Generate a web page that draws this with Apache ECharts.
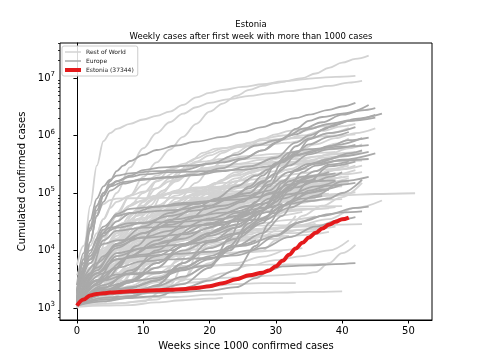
<!DOCTYPE html>
<html><head><meta charset="utf-8">
<script src="https://cdn.jsdelivr.net/npm/echarts@6/dist/echarts.min.js"></script>
<style>html,body{margin:0;padding:0;background:#fff}#c{width:480px;height:360px}</style>
</head><body><div id="c"></div>
<script>
// ---- data: [week, cumulated cases] ----
const estoniaPoints = [[0,1100],[1,1400],[2,1650],[3,1750],[4,1800],[5,1850],[6,1880],[8,1950],[10,2000],[12,2030],[14,2070],[16,2120],[18,2230],[20,2380],[22,2700],[24,3150],[26,3700],[28,4100],[29,4500],[30,5300],[31,6600],[32,8400],[33,10800],[34,13600],[35,16800],[36,20300],[37,24000],[38,28000],[39,31500],[40,34800],[41,37344]];

const europeLines = [
[[0,1.7e3],[1,7e3],[2,2.5e4],[3,6e4],[4,1e5],[5,1.4e5],[6,1.6e5],[8,1.9e5],[10,2.1e5],[14,2.3e5],[20,2.4e5],[25,2.55e5],[29,2.9e5],[31,3.4e5],[33,4.7e5],[35,8.5e5],[37,1.25e6],[39,1.55e6],[42,1.95e6],[46,2.4e6]],
[[0,2.5e3],[1,9e3],[2,3.3e4],[3,8e4],[4,1.3e5],[5,1.7e5],[6,2e5],[8,2.2e5],[12,2.4e5],[16,2.5e5],[20,3.2e5],[24,4.6e5],[27,6.7e5],[30,8.3e5],[33,1.05e6],[35,1.3e6],[38,1.6e6],[41,1.8e6],[45,2.3e6]],
[[0,1.8e3],[1,4.5e3],[2,1.4e4],[3,4e4],[4,7e4],[5,1.1e5],[7,1.45e5],[10,1.75e5],[14,1.9e5],[18,2.1e5],[22,2.7e5],[25,3.9e5],[28,5.5e5],[31,8.5e5],[33,1.3e6],[35,1.8e6],[37,2.1e6],[40,2.4e6],[43,2.75e6],[45,3e6]],
[[0,2e3],[1,6e3],[2,2.2e4],[3,5e4],[4,9e4],[5,1.3e5],[6,1.6e5],[8,2e5],[10,2.5e5],[13,2.8e5],[17,3e5],[22,3.4e5],[25,4e5],[28,5.5e5],[30,7.5e5],[32,1e6],[34,1.3e6],[37,1.7e6],[40,2.3e6],[44,3.4e6]],
[[0,1.9e3],[1,7e3],[2,2.4e4],[3,6e4],[4,1e5],[5,1.3e5],[7,1.55e5],[10,1.7e5],[14,1.85e5],[18,2.05e5],[22,2.4e5],[26,2.9e5],[30,4.1e5],[33,7.5e5],[35,1e6],[38,1.4e6],[41,1.8e6],[45,2.05e6]],
[[0,1.5e3],[1,5e3],[2,1.4e4],[3,4e4],[4,9e4],[5,1.6e5],[6,2.4e5],[7,3e5],[8,3.6e5],[10,4.6e5],[12,5.6e5],[15,6.7e5],[18,7.8e5],[22,9.5e5],[25,1.15e6],[28,1.4e6],[30,1.65e6],[33,2e6],[35,2.3e6],[38,2.8e6],[40,3.2e6],[42,3.7e6]],
[[0,1.3e3],[1,4e3],[2,9e3],[3,1.6e4],[5,2.5e4],[8,3e4],[15,3.15e4],[20,3.4e4],[25,4e4],[28,5e4],[30,7e4],[32,1.3e5],[34,2.3e5],[36,3e5],[40,3.8e5],[45,4.9e5]],
[[0,1.4e3],[2,1e4],[4,2.6e4],[6,4e4],[8,4.5e4],[14,5e4],[20,6e4],[24,9e4],[26,1.3e5],[28,2e5],[30,3.3e5],[32,4.3e5],[35,5e5],[38,6.5e5],[41,8.3e5],[44,9.2e5]],
[[0,1.2e3],[2,7e3],[4,2.3e4],[6,4.3e4],[8,5.3e4],[12,5.8e4],[18,6.5e4],[22,8e4],[26,1e5],[28,1.5e5],[30,3.3e5],[32,5e5],[35,5.8e5],[40,6.4e5],[44,6.8e5]],
[[0,1.3e3],[2,7e3],[4,1.3e4],[6,1.5e4],[10,1.65e4],[16,1.9e4],[22,2.8e4],[26,4.5e4],[29,7e4],[31,1.5e5],[33,2.5e5],[36,3.2e5],[40,3.7e5],[44,3.9e5]],
[[0,1.3e3],[2,8e3],[4,2e4],[6,2.5e4],[10,3e4],[14,4e4],[18,5e4],[22,6e4],[26,8e4],[29,1.4e5],[32,2.3e5],[35,3.2e5],[38,3.9e5],[41,4.9e5],[43,5.5e5]],
[[0,1.1e3],[3,4.5e3],[6,1.3e4],[10,2.6e4],[14,4.5e4],[18,6.5e4],[22,8e4],[26,9e4],[29,1.1e5],[31,1.6e5],[33,2.4e5],[36,3.3e5],[40,4.4e5],[44,5.2e5]],
[[0,1.2e3],[3,4e3],[6,7e3],[10,8e3],[15,8.7e3],[20,9.5e3],[25,1.2e4],[30,1.8e4],[34,3.2e4],[38,4.3e4],[42,5.5e4],[44,5.8e4]],
[[0,1.1e3],[3,3e3],[6,8e3],[10,1.1e4],[15,1.25e4],[20,1.4e4],[25,2e4],[28,3.3e4],[32,5.5e4],[36,9e4],[40,1.6e5],[44,1.9e5]],
[[0,1.1e3],[2,4e3],[4,1.5e4],[6,2.2e4],[10,2.5e4],[15,2.6e4],[20,2.8e4],[25,3.5e4],[29,4.7e4],[32,6.5e4],[35,7.2e4],[38,8e4],[40,1e5],[43,1.7e5]],
[[0,1.6e3],[2,4e3],[4,8e3],[6,1.3e4],[10,2e4],[14,2.8e4],[18,3.8e4],[22,5.3e4],[25,7e4],[27,1e5],[29,1.6e5],[31,3.5e5],[33,6.5e5],[35,8.8e5],[38,1.1e6],[42,1.4e6]],
[[0,1.2e3],[3,4e3],[6,7e3],[10,8.5e3],[14,1e4],[18,1.5e4],[22,2.5e4],[25,4.5e4],[27,7e4],[29,1.3e5],[31,2.8e5],[33,4.5e5],[36,5.5e5],[39,6.8e5],[43,9e5]],
[[0,2e3],[3,6e3],[6,1.2e4],[10,1.7e4],[14,2.2e4],[17,3.5e4],[20,6e4],[23,8.5e4],[26,1.2e5],[28,1.6e5],[30,2.2e5],[32,3e5],[35,4.7e5],[38,5.8e5],[42,6.9e5]],
[[0,1.3e3],[3,5e3],[6,1.1e4],[10,2e4],[14,3.4e4],[18,5.6e4],[21,8e4],[24,1.3e5],[27,2e5],[29,2.6e5],[31,3.6e5],[33,5e5],[35,7e5],[38,9.5e5],[41,1.15e6]],
[[0,1.5e3],[2,6e3],[4,1.8e4],[6,3.2e4],[8,4.4e4],[12,5.8e4],[16,6.7e4],[20,7.2e4],[24,7.7e4],[27,8.5e4],[30,1e5],[33,1.25e5],[36,1.6e5],[38,1.9e5],[40,2.3e5]],
[[0,1.2e3],[3,4e3],[6,9e3],[10,1.1e4],[14,1.5e4],[18,2.7e4],[22,3.1e4],[27,3.4e4],[30,4.5e4],[32,7e4],[35,1.6e5],[38,2.9e5],[42,3.5e5]],
[[0,1.1e3],[4,3e3],[8,4e3],[14,4.3e3],[20,5.5e3],[23,1e4],[26,2.5e4],[29,6e4],[31,1e5],[33,1.6e5],[36,2.4e5],[38,3.1e5],[41,3.5e5]],
[[0,1.1e3],[2,1.5e3],[4,1.75e3],[8,1.8e3],[14,1.85e3],[20,2e3],[24,2.3e3],[27,3.3e3],[29,4.5e3],[31,5.3e3],[35,5.5e3],[39,5.8e3],[42,6e3]],
[[0,1.2e3],[3,3e3],[6,5e3],[10,6.5e3],[14,7e3],[20,7.4e3],[24,8.2e3],[28,1.1e4],[32,1.7e4],[36,2.6e4],[40,3.5e4],[42,3.8e4]],
[[0,1.5e3],[3,3e3],[6,3.8e3],[12,4e3],[16,5e3],[19,7e3],[22,8e3],[26,1e4],[30,1.8e4],[33,3e4],[37,4e4],[40,4.6e4],[43,4.8e4]],
[[0,1.5e3],[4,4e3],[8,8e3],[12,1.5e4],[16,2.5e4],[20,3.6e4],[24,4.8e4],[28,6.5e4],[32,9.5e4],[36,1.3e5],[39,1.6e5]],
[[0,1.2e3],[4,2e3],[8,3e3],[12,6e3],[16,1e4],[20,1.5e4],[24,2e4],[28,3.5e4],[31,6e4],[34,8e4],[37,8.9e4]],
[[0,1.1e3],[4,1.7e3],[8,2.8e3],[12,6e3],[16,1.2e4],[20,2e4],[24,2.8e4],[28,5e4],[31,8e4],[34,1e5],[38,1.15e5]],
[[0,1.2e3],[4,2.3e3],[8,2.9e3],[12,3.3e3],[16,4.5e3],[20,7e3],[24,1.2e4],[28,2e4],[31,4e4],[33,8e4],[35,1.1e5],[38,1.35e5],[42,1.5e5]],
[[0,1.2e3],[4,1.9e3],[8,2.8e3],[12,5e3],[16,1.2e4],[20,1.8e4],[24,2.5e4],[28,5e4],[30,1e5],[32,1.6e5],[34,1.9e5],[37,2.1e5]],
[[0,1.3e3],[4,2.1e3],[8,2.2e3],[12,3e3],[16,6e3],[20,1.1e4],[24,1.6e4],[28,3e4],[30,6e4],[32,1.1e5],[34,1.7e5],[36,2e5],[39,2.2e5]],
[[0,1.1e3],[4,1.4e3],[8,1.5e3],[12,1.6e3],[16,2.2e3],[20,3e3],[24,4.5e3],[27,1.2e4],[29,3e4],[31,6e4],[33,8e4],[35,1e5],[37,1.15e5],[40,1.4e5]],
[[0,1.2e3],[4,1.7e3],[8,1.9e3],[12,2.4e3],[16,3.5e3],[20,5.5e3],[23,1.2e4],[26,3e4],[28,5e4],[30,8.5e4],[32,1.3e5],[34,1.6e5],[36,1.75e5]],
[[0,1.1e3],[4,1.5e3],[8,1.6e3],[12,2.1e3],[16,2.6e3],[20,5e3],[23,1.6e4],[25,4e4],[27,6e4],[29,8e4],[32,1.2e5],[35,1.9e5],[38,2.3e5]],
[[0,1.1e3],[4,2.2e3],[8,4.5e3],[12,8e3],[16,1.3e4],[20,2e4],[24,3.5e4],[28,5.5e4],[31,6.5e4]],
[[0,1.1e3],[4,1.3e3],[8,1.5e3],[12,2.5e3],[16,6e3],[20,1.4e4],[24,2.5e4],[27,4.5e4]],
[[0,1.1e3],[4,1.7e3],[8,2.3e3],[12,3e3],[16,5e3],[20,8e3],[24,1.2e4],[27,1.5e4]],
[[0,1.3e3],[4,3e3],[8,8e3],[12,1.3e4],[16,1.6e4],[20,2.5e4],[24,4.5e4],[28,5.5e4],[30,5.8e4]],
[[0,1.1e3],[4,2.5e3],[8,4e3],[12,1e4],[16,2e4],[20,3e4],[24,4e4],[26,4.8e4]],
[[0,1.2e3],[3,2.5e3],[6,5e3],[9,1.2e4],[12,2.5e4],[15,3.5e4],[18,4e4],[22,4.5e4],[26,6e4],[29,1e5],[32,1.4e5],[35,1.6e5],[39,1.65e5]]
];

const worldLines = [
[[0,1.2e3],[1,8e3],[2,6e4],[3,3e5],[4,8e5],[5,1.1e6],[6,1.3e6],[8,1.6e6],[10,1.9e6],[12,2.2e6],[14,2.6e6],[16,3.4e6],[18,4.6e6],[20,5.5e6],[22,6.2e6],[25,7e6],[28,7.8e6],[31,8.7e6],[34,1e7],[36,1.2e7],[38,1.5e7],[40,1.85e7],[42,2.15e7],[44,2.45e7]],
[[0,1.1e3],[2,4.5e3],[4,1.5e4],[6,4e4],[8,9e4],[10,1.9e5],[12,3.4e5],[14,5.7e5],[16,9.5e5],[18,1.6e6],[20,2.6e6],[22,3.6e6],[24,4.9e6],[26,6.2e6],[28,7.3e6],[30,8.2e6],[32,8.9e6],[34,9.5e6],[36,1e7],[39,1.05e7],[42,1.09e7]],
[[0,1.5e3],[2,7e3],[4,3.5e4],[6,1e5],[8,2.8e5],[10,6e5],[12,1.1e6],[14,1.7e6],[16,2.4e6],[18,3.1e6],[20,3.7e6],[23,4.3e6],[26,4.9e6],[29,5.4e6],[32,5.9e6],[35,6.5e6],[38,7.3e6],[41,8.3e6],[43,8.9e6]],
[[0,2e3],[1,5e3],[2,1.2e4],[3,2e4],[4,3.5e4],[5,5.5e4],[6,7e4],[8,9e4],[10,1.05e5],[12,1.2e5],[14,1.6e5],[16,2e5],[20,2.6e5],[24,3.2e5],[28,3.8e5],[31,4.4e5],[33,5.3e5],[36,7e5],[39,9e5],[42,1.1e6],[45,1.33e6]],
[[0,5.5e3],[1,1.2e4],[2,2.8e4],[3,4.5e4],[4,6.4e4],[5,7.5e4],[6,8e4],[8,8.1e4],[12,8.2e4],[20,8.3e4],[25,8.5e4],[30,8.8e4],[35,9e4],[40,9.2e4],[45,9.6e4],[51,9.9e4]],
[[0,3.7e3],[1,6e3],[2,7.5e3],[4,9.5e3],[8,1.08e4],[14,1.2e4],[20,1.4e4],[24,1.9e4],[28,2.3e4],[33,2.7e4],[38,3.5e4],[42,5.5e4],[46,7.4e4]],
[[0,2.5e3],[2,6e3],[4,1.1e4],[6,1.5e4],[8,1.65e4],[12,1.75e4],[15,2e4],[17,3e4],[19,4.8e4],[21,6.2e4],[24,7.3e4],[28,8.5e4],[31,1e5],[33,1.3e5],[36,1.9e5],[38,2.5e5],[41,3.3e5]],
[[0,1.4e3],[2,8e3],[4,2.2e4],[6,4e4],[8,6e4],[10,7.5e4],[12,9e4],[15,1e5],[20,1.1e5],[24,1.25e5],[27,1.5e5],[29,1.9e5],[32,2.6e5],[35,3.5e5],[38,4.8e5],[41,6e5],[43,7e5]],
[[0,1.1e3],[2,3e3],[4,8e3],[6,2e4],[8,4e4],[10,7e4],[12,1.2e5],[14,1.8e5],[16,2.6e5],[18,3.5e5],[20,4.5e5],[22,5.4e5],[25,6.5e5],[28,7.3e5],[31,8.4e5],[34,1e6],[37,1.2e6],[40,1.45e6],[42,1.6e6]],
[[0,1.5e3],[3,3.5e3],[6,9e3],[9,2.2e4],[12,5e4],[15,1.1e5],[18,2.4e5],[20,3.6e5],[22,5e5],[24,6.3e5],[26,7.5e5],[28,8.8e5],[31,1e6],[34,1.2e6],[37,1.45e6],[41,1.9e6]],
[[0,2e3],[3,4e3],[6,7e3],[9,1.5e4],[12,3e4],[15,7e4],[18,1.5e5],[20,2.5e5],[22,3.6e5],[24,5e5],[26,6.7e5],[28,8.7e5],[30,1.05e6],[32,1.2e6],[35,1.35e6],[38,1.55e6],[40,1.75e6]],
[[0,1e3],[2,5e3],[4,1.7e4],[6,4.5e4],[8,9e4],[10,1.4e5],[12,2e5],[14,2.6e5],[16,3.2e5],[18,4e5],[20,5e5],[22,6e5],[25,7e5],[28,8.2e5],[31,8.8e5],[35,9.3e5],[39,1e6],[42,1.05e6]],
[[0,1.2e3],[2,5e3],[4,9e3],[6,1.6e4],[8,3e4],[10,7e4],[12,1.6e5],[14,2.5e5],[16,3e5],[19,3.5e5],[22,3.9e5],[26,4.4e5],[30,4.8e5],[34,5.3e5],[38,5.8e5],[43,6.6e5]],
[[0,1.7e3],[3,3e3],[6,7e3],[9,2e4],[11,4.5e4],[13,1e5],[15,2e5],[17,3.5e5],[19,5e5],[21,5.9e5],[24,6.3e5],[28,6.8e5],[32,7.5e5],[35,8.7e5],[38,1.1e6],[41,1.35e6]],
[[0,2e3],[3,5e3],[6,1e4],[9,1.8e4],[12,3e4],[15,5e4],[18,8e4],[21,1.2e5],[24,1.8e5],[27,2.4e5],[30,3.2e5],[33,4.2e5],[36,5.4e5],[39,7.2e5],[41,8.9e5]],
[[0,1.4e3],[3,4.5e3],[6,1e4],[10,1.5e4],[13,2.5e4],[16,5e4],[19,1e5],[21,1.5e5],[24,2.3e5],[27,3e5],[30,3.5e5],[33,3.9e5],[36,4.3e5],[39,4.7e5],[42,5e5]],
[[0,1.6e3],[3,5e3],[6,1.3e4],[9,3e4],[11,6e4],[13,1.1e5],[15,1.7e5],[17,2.2e5],[19,2.6e5],[22,2.8e5],[26,2.95e5],[30,3.2e5],[33,3.5e5],[36,4.3e5],[39,4.9e5],[42,5.2e5]],
[[0,2.5e3],[2,7e3],[4,1.7e4],[6,3.2e4],[8,6e4],[10,1e5],[12,1.6e5],[15,2.3e5],[18,3e5],[21,3.5e5],[24,3.8e5],[28,4.1e5],[32,4.6e5],[36,5e5],[39,5.2e5]],
[[0,1e3],[3,3e3],[5,7e3],[7,1.7e4],[9,4e4],[11,7.5e4],[13,1.1e5],[15,1.6e5],[17,2.2e5],[19,2.7e5],[22,3e5],[26,3.25e5],[30,3.4e5],[35,3.55e5],[43,3.65e5]],
[[0,1.2e3],[4,2e3],[8,3e3],[10,6e3],[12,1.5e4],[14,3e4],[16,6e4],[18,9e4],[20,1.3e5],[22,1.7e5],[24,2.1e5],[26,2.6e5],[28,3.2e5],[30,3.9e5],[32,4.6e5],[34,5.2e5],[37,5.7e5],[40,6e5]],
[[0,1.2e3],[2,5e3],[4,1e4],[6,1.5e4],[8,1.6e4],[11,1.7e4],[13,2e4],[15,3e4],[17,5e4],[19,7e4],[21,9e4],[23,1.1e5],[25,1.4e5],[27,2e5],[29,2.8e5],[31,3.1e5],[34,3.3e5],[37,3.6e5],[40,4.3e5],[43,5.3e5]],
[[0,1.2e3],[3,3e3],[6,7e3],[9,1.5e4],[11,3e4],[13,5.5e4],[15,8e4],[17,9e4],[20,9.6e4],[25,1e5],[30,1.06e5],[34,1.15e5],[37,1.3e5],[41,1.6e5]],
[[0,1.6e3],[2,4e3],[4,9e3],[6,2e4],[8,4e4],[10,6e4],[12,8.5e4],[14,1e5],[17,1.1e5],[22,1.2e5],[28,1.3e5],[34,1.4e5],[41,1.5e5]],
[[0,1e3],[3,4e3],[6,1.2e4],[9,2.5e4],[12,3.7e4],[15,4.5e4],[18,5.5e4],[22,6.3e4],[26,7.5e4],[29,1e5],[32,1.4e5],[35,1.7e5],[38,2e5],[42,2.5e5]],
[[0,1e3],[2,3e3],[3,7e3],[5,2.3e4],[7,3e4],[10,3.5e4],[13,4.5e4],[16,6e4],[19,8e4],[22,1.05e5],[25,1.25e5],[28,1.45e5],[32,1.7e5],[36,1.9e5],[40,2.1e5],[43,2.3e5]],
[[0,1.5e3],[3,4e3],[6,8e3],[9,1.2e4],[12,1.8e4],[15,3e4],[18,5e4],[21,8e4],[25,1e5],[29,1.15e5],[33,1.3e5],[37,1.5e5],[41,1.8e5]],
[[0,1.2e3],[3,4e3],[6,7e3],[9,1e4],[12,1.6e4],[15,3e4],[18,5e4],[21,7e4],[24,9e4],[27,1.05e5],[30,1.2e5],[33,1.5e5],[36,1.9e5],[39,2.5e5],[42,3e5]],
[[0,1.5e3],[3,5e3],[6,1.5e4],[9,3e4],[12,4.5e4],[15,6e4],[18,7.5e4],[22,9e4],[26,1.05e5],[30,1.25e5],[34,1.4e5],[39,1.55e5]],
[[0,1.3e3],[2,4e3],[3,5e3],[5,6.5e3],[10,7e3],[14,7.5e3],[17,1e4],[19,1.5e4],[21,2.2e4],[23,2.5e4],[27,2.7e4],[33,2.75e4],[38,2.8e4],[43,2.87e4]],
[[0,1.1e3],[2,2e3],[4,2.8e3],[8,3e3],[15,3.1e3],[25,3.4e3],[30,3.7e3],[34,3.9e3],[36,4.2e3],[38,6e3],[40,9e3],[42,1.25e4]],
[[0,1.04e3],[2,1.35e3],[4,1.45e3],[8,1.5e3],[15,1.55e3],[20,1.7e3],[25,1.8e3],[30,1.85e3],[35,1.9e3],[40,1.95e3]],
[[0,1.3e3],[2,3e3],[4,5e3],[6,5.7e3],[10,7e3],[15,8.5e3],[20,9e3],[25,9.3e3],[28,1e4],[30,1.5e4],[32,2.5e4],[34,4e4],[37,6e4],[40,8.5e4],[43,1.5e5]],
[[0,1.1e3],[2,3e3],[4,1e4],[6,2e4],[8,3e4],[10,3.7e4],[12,4.2e4],[15,4.7e4],[18,5.3e4],[21,5.7e4],[25,5.8e4],[30,5.8e4],[35,5.83e4],[40,5.9e4]],
[[0,1.1e3],[2,2e3],[4,4e3],[6,5e3],[8,7e3],[10,8e3],[13,1e4],[16,1.6e4],[19,3e4],[21,5e4],[23,7e4],[26,1.1e5],[29,1.6e5],[32,2.3e5],[35,3.3e5],[38,4e5],[41,4.5e5]],
[[0,1.2e3],[3,3e3],[6,6e3],[9,8e3],[12,1.1e4],[15,1.5e4],[18,2.5e4],[21,3.7e4],[24,4.7e4],[27,5.2e4],[30,5.7e4],[33,6.5e4],[36,8.5e4],[39,9.5e4],[42,1.03e5]],
[[0,1.2e3],[3,2.5e3],[6,5e3],[9,1e4],[12,1.7e4],[15,2.8e4],[18,3.9e4],[21,4.7e4],[24,5.4e4],[27,5.8e4],[30,6.1e4],[33,6.5e4],[36,7.3e4],[39,8.8e4],[41,1.1e5]],
[[0,1.2e3],[3,2.5e3],[6,6e3],[9,1e4],[12,1.6e4],[15,2.6e4],[18,3.5e4],[21,4.2e4],[25,4.5e4],[30,4.8e4],[35,5.2e4],[39,5.7e4]],
[[0,1.1e3],[3,2e3],[6,3.3e3],[9,6e3],[12,1.2e4],[15,2.3e4],[18,3e4],[22,3.6e4],[26,4.5e4],[29,6e4],[32,8e4],[35,9.2e4],[38,9.7e4]],
[[0,1.1e3],[3,2.5e3],[6,6e3],[9,1.3e4],[12,2.5e4],[15,4.5e4],[18,6.5e4],[21,8e4],[24,9.3e4],[27,1.05e5],[30,1.15e5],[34,1.3e5]],
[[0,1.2e3],[3,3.5e3],[6,9e3],[9,2e4],[12,4e4],[15,5.8e4],[18,7.5e4],[21,8.8e4],[24,9.8e4],[27,1.08e5],[30,1.17e5],[34,1.25e5],[38,1.4e5]],
[[0,1.1e3],[3,2.5e3],[6,6e3],[9,1.2e4],[12,2.5e4],[15,4e4],[18,5.5e4],[21,6.7e4],[24,7.8e4],[27,9e4],[30,1.02e5],[34,1.15e5],[38,1.27e5]],
[[0,1.1e3],[3,3e3],[6,7e3],[9,1.8e4],[12,4e4],[15,7e4],[18,1e5],[21,1.2e5],[24,1.35e5],[28,1.42e5],[32,1.48e5],[36,1.6e5],[40,1.9e5]],
[[0,1.2e3],[4,1.7e3],[8,2.8e3],[11,6e3],[14,1.8e4],[17,3.3e4],[20,5e4],[23,7.3e4],[26,1e5],[29,1.2e5],[32,1.4e5],[35,1.6e5],[38,1.8e5],[41,1.95e5]],
[[0,1.1e3],[4,1.8e3],[8,4e3],[11,8e3],[14,1.6e4],[17,3e4],[20,4.5e4],[23,6.5e4],[26,8.5e4],[29,9.5e4],[32,1.02e5],[35,1.08e5],[38,1.15e5]],
[[0,1.1e3],[3,3e3],[6,1e4],[9,1.7e4],[12,2.2e4],[15,3.4e4],[18,6e4],[21,1.05e5],[24,1.6e5],[27,2.1e5],[30,2.4e5],[33,2.6e5],[35,2.65e5]],
[[0,1.1e3],[3,2.5e3],[6,6e3],[9,1.2e4],[12,2.2e4],[14,4.5e4],[16,8e4],[18,9.5e4],[21,1.05e5],[25,1.08e5],[29,1.12e5],[33,1.3e5],[37,1.45e5],[40,1.55e5]],
[[0,1.1e3],[3,1.6e3],[6,2e3],[12,2.3e3],[18,2.8e3],[22,4e3],[26,5.5e3],[30,6.8e3],[34,8e3],[38,1e4],[41,1.5e4]],
[[0,1.1e3],[4,1.3e3],[8,1.6e3],[12,2.3e3],[16,3.3e3],[20,6e3],[23,1.1e4],[26,1.9e4],[29,2.9e4]],
[[0,1.1e3],[4,1.7e3],[8,2e3],[12,2.8e3],[16,3.3e3],[20,1.3e4],[24,2.2e4],[28,3.5e4],[32,4.8e4],[35,5.3e4]],
[[0,1.1e3],[4,1.3e3],[8,1.6e3],[12,3e3],[16,8e3],[20,2.4e4],[24,4.5e4],[28,7.5e4],[32,1.15e5],[35,1.5e5],[38,2.3e5]],
[[0,1.1e3],[6,1.2e3],[10,1.3e3],[14,2.5e3],[17,1e4],[20,5e4],[23,1.3e5],[26,2.2e5],[29,2.8e5],[32,3.1e5],[35,3.2e5]],
[[0,1.1e3],[6,1.2e3],[12,1.4e3],[16,3e3],[19,1.5e4],[22,4e4],[25,7e4],[28,1e5],[31,1.3e5],[34,1.6e5]],
[[0,1.1e3],[3,3e3],[6,1.8e4],[9,5e4],[12,8e4],[15,1.1e5],[18,1.25e5],[21,1.3e5]],
[[0,1.1e3],[4,2e3],[8,1.1e4],[12,2.2e4],[16,3.5e4],[20,5e4],[24,7.5e4],[28,1.15e5],[31,1.45e5],[33,1.55e5]],
[[0,1.1e3],[4,1.8e3],[8,4e3],[12,1e4],[16,1.3e4],[20,1.5e4],[24,1.65e4],[28,1.8e4],[31,2.5e4],[33,4e4]],
[[0,1.1e3],[3,4e3],[6,1.1e4],[9,2.5e4],[12,3.3e4],[15,3.6e4],[18,3.8e4],[22,4e4],[26,4.3e4],[30,4.9e4],[34,5.3e4],[38,5.4e4]],
[[0,1.1e3],[3,2.3e3],[6,3.2e3],[9,5e3],[12,9e3],[15,2e4],[18,3.7e4],[21,4.5e4],[25,5.8e4],[29,6.7e4],[33,7.2e4],[37,7.6e4],[40,7.8e4]],
[[0,1.1e3],[3,1.5e3],[6,2e3],[9,5e3],[12,2.8e4],[15,4e4],[19,4.5e4],[23,5.5e4],[27,7.2e4],[31,7.9e4],[35,8.2e4]],
[[0,1.05e3],[4,1.1e3],[8,1.12e3],[12,1.25e3],[16,1.36e3],[20,1.45e3],[22,1.5e3]],
[[0,1.1e3],[3,2e3],[6,3.5e3],[9,5e3],[12,7e3],[15,9e3],[18,1.2e4],[22,1.4e4],[26,1.5e4],[30,1.6e4],[34,1.85e4],[38,2.1e4]],
[[0,1.1e3],[3,2e3],[6,3.5e3],[9,1e4],[12,1.4e4],[15,1.7e4],[18,2e4],[22,2.2e4],[28,2.3e4],[34,2.6e4],[39,2.8e4]],
[[0,1.1e3],[3,3e3],[6,6e3],[9,7e3],[13,7.6e3],[18,8.5e3],[22,9e3],[26,9.4e3],[30,1e4],[34,1.1e4]],
[[0,1.2e3],[4,1.4e3],[8,1.6e3],[12,1.9e3],[16,2.1e3],[20,2.4e3],[24,2.6e3],[28,2.7e3],[33,2.7e3]],
[[0,1.1e3],[2,1.6e3],[4,3e3],[6,4e3],[10,4.8e3],[15,5.4e3],[20,5.5e3],[26,5.6e3],[32,5.7e3],[38,5.9e3]],
[[0,1.1e3],[4,2e3],[8,5e3],[11,1e4],[14,1.4e4],[18,1.6e4],[22,1.7e4],[27,1.75e4],[32,1.8e4]],
[[0,1.1e3],[3,2.5e3],[6,5e3],[9,1.1e4],[12,2e4],[15,3e4],[18,4e4],[21,5e4],[25,6.5e4],[29,8e4],[33,8.8e4],[37,9.3e4],[41,9.8e4]],
[[0,1.1e3],[3,2.5e3],[6,5e3],[9,1.5e4],[12,3.5e4],[15,6e4],[18,8e4],[21,8.8e4],[25,1e5],[29,1.1e5],[33,1.22e5],[37,1.28e5],[40,1.3e5]],
[[0,1.1e3],[4,1.5e3],[8,3e3],[12,9e3],[16,2.2e4],[20,4e4],[24,6.5e4],[28,8.5e4],[31,1e5]],
[[0,1.1e3],[3,2e3],[6,4e3],[9,8e3],[12,1.5e4],[15,2.1e4],[18,2.6e4],[22,3e4],[26,3.5e4],[30,4e4],[34,4.7e4]],
[[0,1.1e3],[4,3e3],[8,8e3],[12,2e4],[16,3.8e4],[20,6e4],[24,8.5e4],[27,1e5]],
[[0,1.1e3],[3,1.5e3],[6,3e3],[9,6e3],[12,1.4e4],[15,2.4e4],[18,3.1e4],[22,3.5e4],[26,3.9e4],[29,5e4],[32,8e4],[35,1.3e5],[38,2.1e5],[40,2.25e5]],
[[0,1.1e3],[4,1.4e3],[8,1.9e3],[12,3e3],[16,8e3],[19,2.5e4],[22,6e4],[25,1.1e5],[28,1.8e5],[31,2.4e5]],
[[0,1.1e3],[4,1.5e3],[8,2.2e3],[12,3.5e3],[16,4.9e3],[20,5.4e3],[24,6e3],[28,7.8e3],[31,1e4]],
[[0,1.1e3],[3,1.5e3],[6,2.3e3],[9,5e3],[12,1e4],[15,1.4e4],[18,1.7e4],[22,1.9e4],[26,2.05e4],[30,2.15e4],[35,2.3e4],[39,2.6e4]],
[[0,1.1e3],[3,2.5e3],[6,5e3],[9,1e4],[12,1.25e4],[16,1.5e4],[20,1.9e4],[24,2.9e4]],
[[0,1.3e3],[3,4e3],[6,1.2e4],[10,2.5e4],[14,4e4],[18,5.5e4],[22,6.5e4],[26,7.5e4],[30,9e4],[34,1.1e5],[38,1.35e5]],
[[0,2e3],[2,6e3],[4,1.5e4],[7,3e4],[10,4.5e4],[14,6e4],[18,7e4],[22,8e4],[26,9e4],[30,1.05e5],[35,1.3e5],[40,1.6e5]],
[[0,1.5e3],[3,3e3],[6,6e3],[10,1.3e4],[14,2.5e4],[18,4.2e4],[22,6e4],[26,7.5e4],[30,8.5e4],[34,9.5e4],[37,1e5]],
[[0,1.2e3],[4,2.5e3],[8,5e3],[12,9e3],[16,1.5e4],[20,2.2e4],[24,2.7e4],[28,3e4],[32,3.4e4],[36,3.9e4]],
[[0,1.4e3],[3,5e3],[6,1.6e4],[9,3.5e4],[12,6e4],[15,9e4],[18,1.2e5],[22,1.5e5],[26,1.7e5],[30,1.9e5],[34,2.2e5],[38,2.6e5],[41,3e5]],
[[0,1.1e3],[3,2e3],[6,4e3],[9,8e3],[12,1.5e4],[15,2.7e4],[18,4e4],[21,5e4],[24,5.8e4],[28,6.5e4],[32,7.3e4],[36,8e4]],
[[0,1.6e3],[3,6e3],[6,2e4],[9,4e4],[12,5.5e4],[16,6.5e4],[20,7e4],[25,7.5e4],[30,8e4],[35,8.7e4],[40,9.4e4]],
[[0,1.2e3],[4,3e3],[8,7e3],[12,1.2e4],[16,1.7e4],[20,2e4],[24,2.2e4],[28,2.4e4],[32,2.6e4],[36,2.9e4]],
[[0,1.3e3],[3,3e3],[6,8e3],[9,1.8e4],[12,3.5e4],[15,6e4],[18,1e5],[21,1.5e5],[24,2e5],[27,2.5e5],[30,3e5],[34,3.6e5],[38,4.2e5],[42,4.8e5]],
[[0,1.1e3],[4,1.6e3],[8,2.4e3],[12,4e3],[16,7e3],[20,1.1e4],[24,1.5e4],[28,1.8e4],[32,2e4],[36,2.2e4]],
[[0,2.2e3],[2,7e3],[4,2e4],[6,4e4],[9,7e4],[12,9e4],[16,1.1e5],[20,1.25e5],[25,1.4e5],[30,1.6e5],[35,2e5],[40,2.6e5],[43,3e5]],
[[0,1.2e3],[3,2.2e3],[6,3.5e3],[10,5.5e3],[14,8e3],[18,1.05e4],[22,1.3e4],[26,1.6e4],[30,1.9e4],[34,2.3e4],[38,2.7e4]]
];

const xTickValues = [0, 10, 20, 30, 40, 50];
const yTickValues = [1e3, 1e4, 1e5, 1e6, 1e7];
const yMinorTicks = [700,800,900,2e3,3e3,4e3,5e3,6e3,7e3,8e3,9e3,2e4,3e4,4e4,5e4,6e4,7e4,8e4,9e4,2e5,3e5,4e5,5e5,6e5,7e5,8e5,9e5,2e6,3e6,4e6,5e6,6e6,7e6,8e6,9e6,2e7,3e7,4e7];

const FONT = 'DejaVu Sans';
const chart = echarts.init(document.getElementById('c'), null, {renderer: 'canvas'});

function grayLine(name, pts, color) {
  return {type: 'line', name: name, data: pts, symbol: 'none', showSymbol: false,
    smooth: 0.35, smoothMonotone: 'x', silent: true, z: 2,
    lineStyle: {color: color, width: 1.8}, itemStyle: {color: color}};
}
const series = [];
worldLines.forEach(p => series.push(grayLine('Rest of World', p, '#d3d3d3')));
europeLines.forEach(p => series.push(grayLine('Europe', p, '#a9a9a9')));
series.push({type: 'line', name: 'Estonia (37344)', data: estoniaPoints, symbol: 'none', showSymbol: false,
  smooth: 0.35, smoothMonotone: 'x', z: 5, silent: true,
  lineStyle: {color: '#e41a1c', width: 4}, itemStyle: {color: '#e41a1c'}});

const thinIcon = 'path://M0,0L0.01,0L0.01,0.01Z M0,2.2L16,2.2L16,3.8L0,3.8Z M0,5.99L0.01,5.99L0.01,6Z';
const thickIcon = 'path://M0,0L0.01,0L0.01,0.01Z M0,1L16,1L16,5L0,5Z M0,5.99L0.01,5.99L0.01,6Z';

chart.setOption({
  animation: false,
  backgroundColor: '#fff',
  title: [
    {text: 'Estonia', left: 246, top: 15, textAlign: 'center',
     textStyle: {fontFamily: FONT, fontSize: 8.5, fontWeight: 'normal', color: '#000'}},
    {text: 'Weekly cases after first week with more than 1000 cases', left: 246, top: 27, textAlign: 'center',
     textStyle: {fontFamily: FONT, fontSize: 8.5, fontWeight: 'normal', color: '#000'}}
  ],
  legend: {
    left: 62, top: 46, orient: 'vertical', itemGap: 3, itemWidth: 16, itemHeight: 6,
    padding: [3, 4, 3, 3], borderColor: '#ccc', borderWidth: 1, borderRadius: 2,
    backgroundColor: 'rgba(255,255,255,0.85)',
    itemStyle: {borderWidth: 0},
    textStyle: {fontFamily: FONT, fontSize: 6, color: '#222'},
    data: [{name: 'Rest of World', icon: thinIcon}, {name: 'Europe', icon: thinIcon}, {name: 'Estonia (37344)', icon: thickIcon}]
  },
  grid: {left: 60, right: 48, top: 43, bottom: 40, show: true, borderColor: '#000', borderWidth: 1, backgroundColor: 'transparent'},
  xAxis: {
    type: 'value', min: -2.55, max: 53.55,
    name: 'Weeks since 1000 confirmed cases', nameLocation: 'middle', nameGap: 21,
    nameTextStyle: {fontFamily: FONT, fontSize: 10, color: '#000'},
    axisLine: {lineStyle: {color: '#000', width: 1}},
    axisTick: {length: 3.5, lineStyle: {color: '#000'}, customValues: xTickValues},
    axisLabel: {fontFamily: FONT, fontSize: 10, color: '#000', margin: 6, customValues: xTickValues},
    splitLine: {show: false}
  },
  yAxis: [{
    type: 'log', logBase: 10, min: 617, max: 4.07e7,
    name: 'Cumulated confirmed cases', nameLocation: 'middle', nameGap: 30,
    nameTextStyle: {fontFamily: FONT, fontSize: 10, color: '#000'},
    axisLine: {show: true, lineStyle: {color: '#000', width: 1}},
    axisTick: {show: true, length: 3.5, lineStyle: {color: '#000'}, customValues: yTickValues},
    axisLabel: {fontFamily: FONT, fontSize: 10, color: '#000', margin: 5, customValues: yTickValues,
      formatter: v => '{b|10}{s|' + Math.round(Math.log10(v)) + '}',
      rich: {b: {fontFamily: FONT, fontSize: 10, color: '#000'},
             s: {fontFamily: FONT, fontSize: 7, color: '#000', padding: [0, 0, 7, 0]}}},
    splitLine: {show: false}
  }, {
    type: 'log', logBase: 10, min: 617, max: 4.07e7, position: 'left',
    axisLine: {show: false},
    axisTick: {show: true, length: 2, lineStyle: {color: '#000', width: 0.8}, customValues: yMinorTicks},
    axisLabel: {show: false},
    splitLine: {show: false}
  }],
  series: series
});
</script></body></html>
